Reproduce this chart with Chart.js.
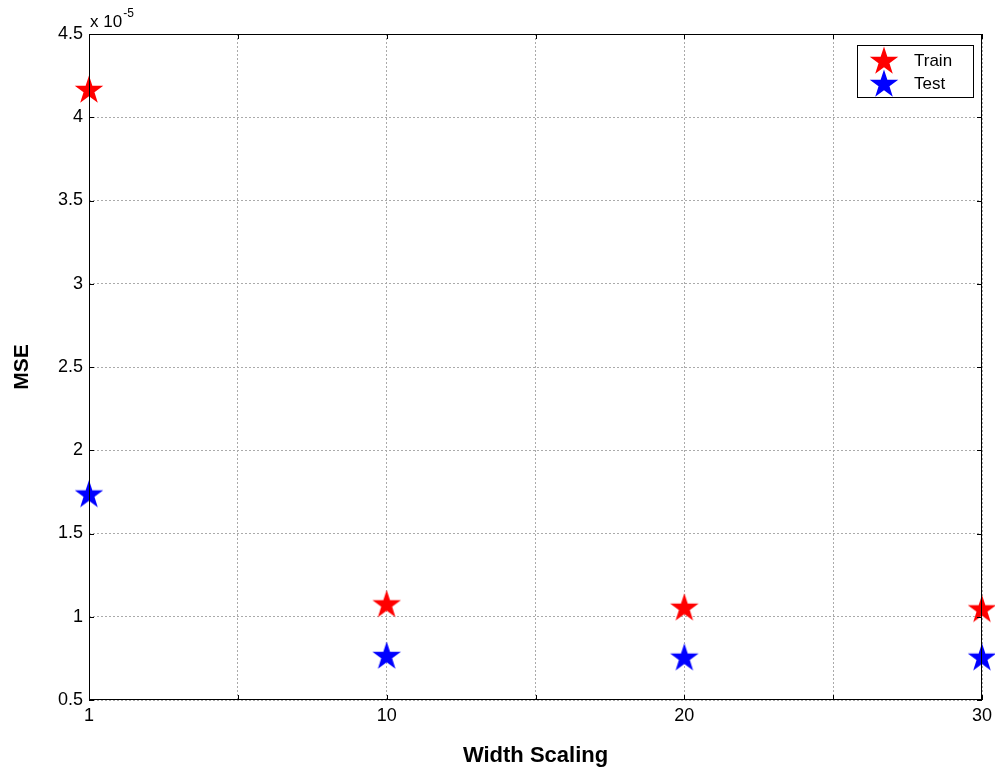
<!DOCTYPE html>
<html>
<head>
<meta charset="utf-8">
<script src="https://cdn.jsdelivr.net/npm/chart.js@4"></script>
<style>
  html, body { margin: 0; padding: 0; background: #fff; }
  #wrap { width: 995px; height: 773px; }
</style>
</head>
<body>
<div id="wrap"><canvas id="chart-mse"></canvas></div>
<script>
// values (MSE in units of 1e-5)
const xPositions = [0, 10, 20, 30];
const xTickLabels = ['1', '10', '20', '30'];
const trainMse = [4.17, 1.08, 1.06, 1.05];
const testMse = [1.74, 0.77, 0.76, 0.76];
const seriesNames = ['Train', 'Test'];
const seriesColors = ['#ff0000', '#0000ff'];

function makeStar(color, r) {
  const size = Math.ceil(r * 2) + 2;
  const c = document.createElement('canvas');
  c.width = size; c.height = size;
  const g = c.getContext('2d');
  const cx = size / 2, cy = size / 2 + r * 0.1;
  const inner = r * 0.382;
  g.beginPath();
  for (let i = 0; i < 10; i++) {
    const rad = i % 2 === 0 ? r : inner;
    const a = -Math.PI / 2 + i * Math.PI / 5;
    const px = cx + rad * Math.cos(a), py = cy + rad * Math.sin(a);
    if (i === 0) g.moveTo(px, py); else g.lineTo(px, py);
  }
  g.closePath();
  g.fillStyle = color;
  g.fill();
  return c;
}

const stars = seriesColors.map(c => makeStar(c, 15));

function toPoints(ys) {
  return xPositions.map((x, i) => ({ x: x, y: ys[i] }));
}

// frame, inward ticks, exponent label and legend box
const matlabBits = {
  id: 'matlabBits',
  afterDraw(chart) {
    const ctx = chart.ctx;
    const a = chart.chartArea;
    const xs = chart.scales.x, ys = chart.scales.y;
    ctx.save();
    ctx.strokeStyle = '#000';
    ctx.lineWidth = 1;
    ctx.strokeRect(a.left + 0.5, a.top + 0.5, a.right - a.left - 1, a.bottom - a.top - 1);
    ctx.beginPath();
    xs.ticks.forEach(t => {
      const px = Math.round(xs.getPixelForValue(t.value)) + 0.5;
      ctx.moveTo(px, a.bottom); ctx.lineTo(px, a.bottom - 5);
      ctx.moveTo(px, a.top); ctx.lineTo(px, a.top + 5);
    });
    ys.ticks.forEach(t => {
      const py = Math.round(ys.getPixelForValue(t.value)) + 0.5;
      ctx.moveTo(a.left, py); ctx.lineTo(a.left + 5, py);
      ctx.moveTo(a.right, py); ctx.lineTo(a.right - 5, py);
    });
    ctx.stroke();

    // exponent
    ctx.fillStyle = '#000';
    ctx.textBaseline = 'alphabetic';
    ctx.textAlign = 'left';
    ctx.font = '17px "Liberation Sans", Arial, sans-serif';
    ctx.fillText('x 10', a.left + 1, 27);
    const w = ctx.measureText('x 10').width;
    ctx.font = '12px "Liberation Sans", Arial, sans-serif';
    ctx.fillText('-5', a.left + 2 + w, 17);

    // legend
    const lx = 857, ly = 45, lw = 116, lh = 52;
    ctx.fillStyle = '#fff';
    ctx.fillRect(lx, ly, lw, lh);
    ctx.strokeRect(lx + 0.5, ly + 0.5, lw, lh);
    ctx.font = '17px "Liberation Sans", Arial, sans-serif';
    ctx.textBaseline = 'middle';
    chart.data.datasets.forEach((ds, i) => {
      const cy = ly + 15 + i * 23;
      const img = ds.pointStyle;
      ctx.drawImage(img, 884 - img.width / 2, cy - img.height / 2);
      ctx.fillStyle = '#000';
      ctx.fillText(ds.label, 914, cy + 1);
    });
    ctx.restore();
  }
};

new Chart(document.getElementById('chart-mse'), {
  type: 'scatter',
  data: {
    datasets: [
      { label: seriesNames[0], data: toPoints(trainMse), pointStyle: stars[0], clip: false },
      { label: seriesNames[1], data: toPoints(testMse), pointStyle: stars[1], clip: false }
    ]
  },
  options: {
    responsive: true,
    maintainAspectRatio: false,
    animation: false,
    layout: { autoPadding: false, padding: { left: 0, right: 13, top: 34, bottom: 0 } },
    plugins: { legend: { display: false }, tooltip: { enabled: false } },
    scales: {
      x: {
        type: 'linear',
        min: 0,
        max: 30,
        afterFit: s => { s.height = 73; s.paddingLeft = 0; s.paddingRight = 0; },
        grid: { color: '#aaaaaa', drawTicks: false },
        border: { display: false, dash: [2, 2] },
        ticks: {
          stepSize: 5,
          padding: 5,
          color: '#000',
          font: { family: '"Liberation Sans", Arial', size: 18 },
          maxRotation: 0,
          callback: v => {
            const i = xPositions.indexOf(v);
            return i >= 0 ? xTickLabels[i] : '';
          }
        },
        title: {
          display: true,
          text: 'Width Scaling',
          color: '#000',
          font: { family: '"Liberation Sans", Arial', size: 22, weight: 'bold' },
          padding: { top: 0, bottom: 4 }
        }
      },
      y: {
        min: 0.5,
        max: 4.5,
        afterFit: s => { s.width = 89; s.paddingTop = 0; s.paddingBottom = 0; },
        grid: { color: '#aaaaaa', drawTicks: false },
        border: { display: false, dash: [2, 2] },
        ticks: {
          stepSize: 0.5,
          padding: 6,
          color: '#000',
          font: { family: '"Liberation Sans", Arial', size: 18 },
          callback: v => String(Number(v.toFixed(1)))
        },
        title: {
          display: true,
          text: 'MSE',
          color: '#000',
          font: { family: '"Liberation Sans", Arial', size: 21, weight: 'bold' },
          padding: { top: 10, bottom: 0 }
        }
      }
    }
  },
  plugins: [matlabBits]
});
</script>
</body>
</html>
